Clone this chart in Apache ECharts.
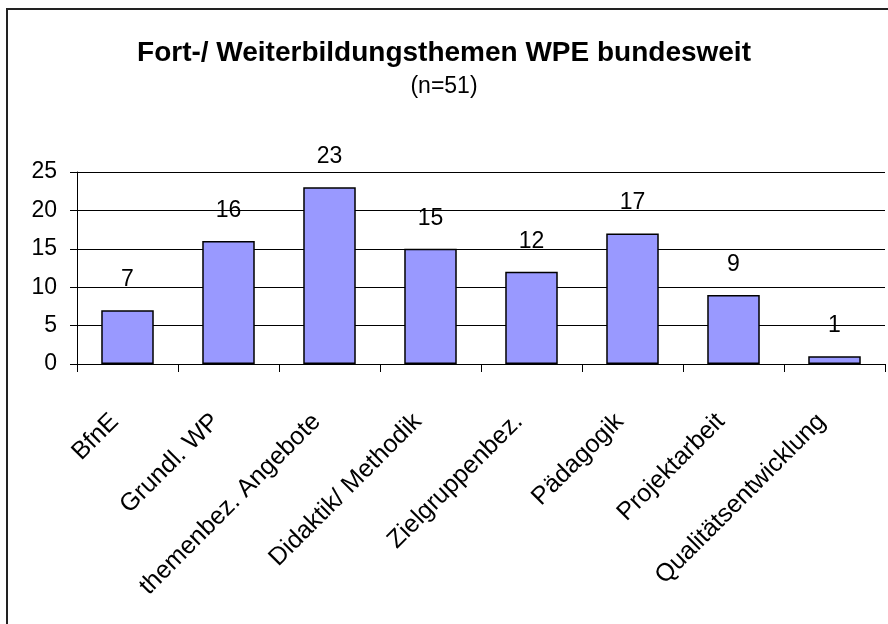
<!DOCTYPE html>
<html>
<head>
<meta charset="utf-8">
<script src="https://cdn.jsdelivr.net/npm/echarts@6/dist/echarts.min.js"></script>
<style>
  html, body { margin: 0; padding: 0; background: #fff; }
  #chart { width: 888px; height: 624px; }
</style>
</head>
<body>
<div id="chart"></div>
<script>
// Fortbildungsthemen, Anzahl Nennungen
var themen = ['BfnE', 'Grundl. WP', 'themenbez. Angebote', 'Didaktik/ Methodik',
  'Zielgruppenbez.', 'Pädagogik', 'Projektarbeit', 'Qualitätsentwicklung'];
var anzahl = [7, 16, 23, 15, 12, 17, 9, 1];
var yTicks = [0, 5, 10, 15, 20, 25];

var font = '"Liberation Sans", Arial, sans-serif';
var chart = echarts.init(document.getElementById('chart'));

var opt = {
  animation: false,
  backgroundColor: '#fff',
  title: {
    text: 'Fort-/ Weiterbildungsthemen WPE bundesweit',
    subtext: '(n=51)',
    left: 'center',
    top: 34,
    itemGap: 8,
    textStyle: { fontFamily: font, fontSize: 28, fontWeight: 'bold', color: '#000' },
    subtextStyle: { fontFamily: font, fontSize: 23, color: '#000' }
  },
  graphic: [{
    type: 'polyline',
    shape: { points: [[7, 624], [7, 9], [888, 9]] },
    style: { stroke: '#222', lineWidth: 2, fill: null }
  }],
  grid: { left: 77, right: 3, top: 172, bottom: 260, containLabel: false },
  xAxis: {
    type: 'category',
    data: themen,
    axisLine: { lineStyle: { color: '#000', width: 1 } },
    axisTick: { show: true, length: 8, lineStyle: { color: '#000' } },
    axisLabel: {
      rotate: 45, interval: 0, margin: 41, padding: [0, 18, 0, 0],
      fontFamily: font, fontSize: 25, color: '#000'
    }
  },
  yAxis: {
    type: 'value',
    min: yTicks[0],
    max: yTicks[yTicks.length - 1],
    interval: 5,
    axisLine: { show: true, lineStyle: { color: '#000', width: 1 } },
    axisTick: { show: true, inside: false, length: 7, lineStyle: { color: '#000' } },
    axisLabel: { margin: 20, fontFamily: font, fontSize: 23, color: '#000' },
    splitLine: { show: true, lineStyle: { color: '#000', width: 1 } }
  },
  series: [{
    type: 'bar',
    data: anzahl,
    barWidth: '52%',
    itemStyle: { color: '#9999FF', borderColor: '#000', borderWidth: 1.5 },
    label: { show: true, position: 'top', distance: 19, fontFamily: font, fontSize: 23, color: '#000' }
  }]
};
chart.setOption(opt);

window.onresize = function () {
  chart.resize();
};
</script>
</body>
</html>
